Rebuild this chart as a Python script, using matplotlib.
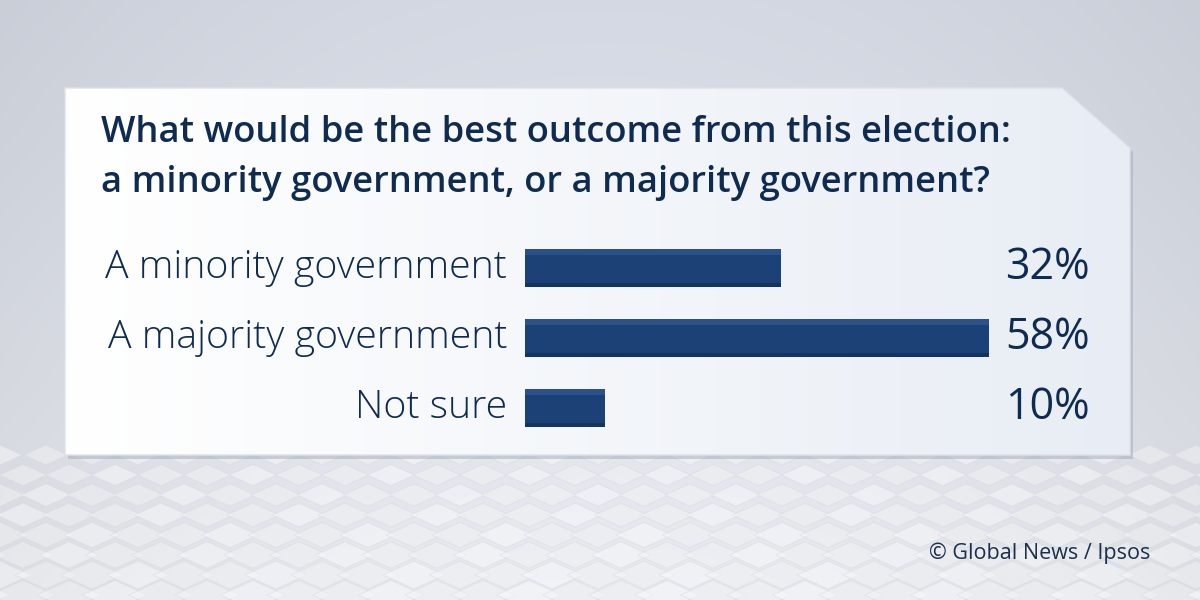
import numpy as np
import matplotlib
matplotlib.use("Agg")
import matplotlib.pyplot as plt
from matplotlib.patches import Polygon
import matplotlib.transforms as mtransforms

title_lines = ["What would be the best outcome from this election:",
               "a minority government, or a majority government?"]
categories = ["A minority government", "A majority government", "Not sure"]
values = [32, 58, 10]
value_labels = ["32%", "58%", "10%"]
source = "\u00a9 Global News / Ipsos"

NAVY = "#0f2b50"
BAR = "#1c4176"
BAR_TOP = "#2a5289"
BAR_DARK = "#133360"

W, H = 1200, 600
fig = plt.figure(figsize=(12, 6), dpi=100)

bg = fig.add_axes([0, 0, 1, 1])
bg.set_xlim(0, W)
bg.set_ylim(H, 0)
bg.axis("off")
yy = np.linspace(0, 1, 300)[:, None]
xx = np.linspace(0, 1, 600)[None, :]
top = np.array([0.83, 0.85, 0.89])
bot = np.array([0.91, 0.92, 0.94])
t = np.clip(yy, 0, 1)
vign = 1 - 0.05 * (np.abs(xx - 0.5) * 2) ** 2
img = (top[None, None, :] * (1 - t[..., None]) + bot[None, None, :] * t[..., None]) * vign[..., None]
img = np.clip(img, 0, 1)
bg.imshow(img, extent=[0, W, H, 0], aspect="auto", zorder=0)

for r in range(0, 9):
    for c in range(-2, 40):
        cx = c * 46 + (r % 2) * 23
        cy = 455 + r * 20
        s = 22 + r * 1.5
        shade = 0.96 if (r + c) % 3 else 0.99
        poly = Polygon([[cx, cy - s * 0.45], [cx + s, cy], [cx, cy + s * 0.45], [cx - s, cy]],
                       closed=True, facecolor=(shade, shade, min(1, shade + 0.01)),
                       edgecolor=(0.84, 0.86, 0.89), lw=0.8, alpha=0.45, zorder=1)
        bg.add_patch(poly)

pts = [[65, 88], [1062, 88], [1130, 148], [1130, 455], [65, 455]]
shadow = Polygon([[p[0] + 3, p[1] + 4] for p in pts], closed=True, facecolor="#9aa3b3",
                 alpha=0.45, edgecolor="none", zorder=2)
bg.add_patch(shadow)
panel = Polygon(pts, closed=True, facecolor="none", edgecolor="#dde2e9", lw=1, zorder=4)
bg.add_patch(panel)
pg = np.linspace(0, 1, 400)[None, :]
pimg = np.ones((2, 400, 3))
c0 = np.array([1.0, 1.0, 1.0])
c1 = np.array([0.91, 0.93, 0.96])
pimg[:] = (c0[None, None, :] * (1 - pg[..., None]) + c1[None, None, :] * pg[..., None])
im = bg.imshow(pimg, extent=[65, 1130, 455, 88], aspect="auto", zorder=3)
clip = Polygon(pts, closed=True, transform=bg.transData, facecolor="none", edgecolor="none")
bg.add_patch(clip)
im.set_clip_path(clip)

for k, line in enumerate(title_lines):
    bg.text(101, 133 + 50 * k, line, fontsize=26.2, fontweight="semibold",
            color=NAVY, family="Open Sans", va="center", ha="left", zorder=10)
bg.text(1150, 553, source, fontsize=15.5, color="#1c2f4c", family="Open Sans",
        ha="right", va="center", zorder=10)

left_px, right_px = 525, 1125
top_px, bot_px = 233, 443
ax = fig.add_axes([left_px / W, 1 - bot_px / H, (right_px - left_px) / W, (bot_px - top_px) / H])
ax.set_xlim(0, 75)
ax.set_ylim(2.5, -0.5)
ax.axis("off")
ax.patch.set_alpha(0)

ypos = np.arange(len(categories))
h = 0.54
ax.barh(ypos, values, height=h, color=BAR, edgecolor="none", zorder=3)
ax.barh(ypos - h / 2 + 0.04, values, height=0.08, color=BAR_TOP, edgecolor="none", zorder=4)
ax.barh(ypos + h / 2 - 0.03, values, height=0.06, color=BAR_DARK, edgecolor="none", zorder=4)

lab_tr = mtransforms.offset_copy(ax.transData, fig=fig, x=-18, y=0, units="dots")
val_tr = mtransforms.blended_transform_factory(ax.transAxes, ax.transData)
for i, (cat, vl) in enumerate(zip(categories, value_labels)):
    ax.text(0, i, cat, transform=lab_tr, ha="right", va="center", fontsize=28.3, color=NAVY,
            family="Open Sans", fontweight="light")
    ax.text((1090 - left_px) / (right_px - left_px), i, vl, transform=val_tr,
            ha="right", va="center", fontsize=31, color=NAVY, family="Open Sans", fontweight="medium")

fig.savefig("out.png", dpi=100)
